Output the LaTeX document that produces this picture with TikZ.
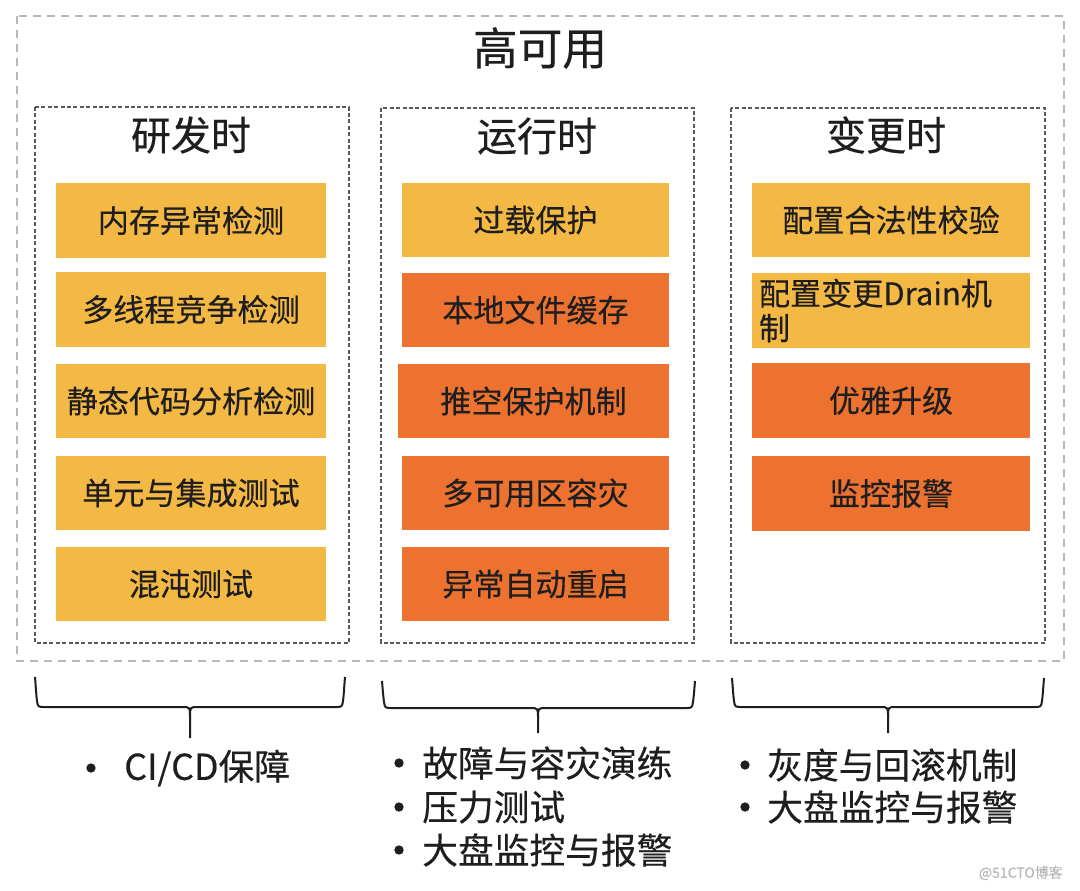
\documentclass[tikz,border=0pt]{standalone}
\usepackage{fontspec}
\setmainfont{Noto Sans CJK SC}[FakeBold=0.35]
\definecolor{cYel}{HTML}{F4B844}
\definecolor{cOrg}{HTML}{ED7230}
\definecolor{cTxt}{HTML}{1E1E1E}
\begin{document}
\begin{tikzpicture}[x=0.75pt,y=-0.75pt,
  outerbox/.style={draw=black!28, line width=1.1pt, dash pattern=on 6pt off 4.5pt},
  phase/.style={draw=black!65, line width=1.1pt, dash pattern=on 3pt off 1.8pt},
  item/.style={minimum height=56pt, inner sep=0pt, font=\fontsize{23.3}{26}\selectfont, text=cTxt},
  yel/.style={item, fill=cYel},
  org/.style={item, fill=cOrg},
  head/.style={font=\fontsize{30}{35}\selectfont, text=cTxt, inner sep=0pt},
  brace/.style={line width=1.5pt, draw=cTxt},
  bul/.style={circle, fill=cTxt, minimum size=7pt, inner sep=0pt},
  btxt/.style={anchor=west, font=\fontsize{26.8}{30}\selectfont, text=cTxt, inner sep=0pt}]
\useasboundingbox (0,0) rectangle (1080,890);
\fill[white] (0,0) rectangle (1080,890);
% outer frame
\draw[outerbox] (17,16) rectangle (1064,661);
\node[font=\fontsize{33.5}{40}\selectfont, text=cTxt, inner sep=0pt] (title) at (540,48) {高可用};
% phase frames
\draw[phase] (35,107) rectangle (349,643);
\draw[phase] (381,108) rectangle (694,643);
\draw[phase] (731,108) rectangle (1045,643);
\node[head] (h1) at (191,135) {研发时};
\node[head] (h2) at (537,136) {运行时};
\node[head] (h3) at (886,135) {变更时};
% column 1
\node[yel, minimum width=202.5pt] (a1) at (191,220.5) {内存异常检测};
\node[yel, minimum width=202.5pt] (a2) at (191,309.5) {多线程竞争检测};
\node[yel, minimum width=202.5pt] (a3) at (191,401) {静态代码分析检测};
\node[yel, minimum width=202.5pt] (a4) at (191,493) {单元与集成测试};
\node[yel, minimum width=202.5pt] (a5) at (191,584) {混沌测试};
% column 2
\node[yel, minimum width=200.25pt] (b1) at (535.5,220) {过载保护};
\node[org, minimum width=200.25pt] (b2) at (535.5,310) {本地文件缓存};
\node[org, minimum width=203.25pt] (b3) at (533.5,401) {推空保护机制};
\node[org, minimum width=200.25pt] (b4) at (535.5,493) {多可用区容灾};
\node[org, minimum width=200.25pt] (b5) at (535.5,584) {异常自动重启};
% column 3
\node[yel, minimum width=208.5pt] (c1) at (891,220) {配置合法性校验};
\node[yel, minimum width=208.5pt, text width=198pt, inner xsep=5.25pt, align=left] (c2) at (891,310.5) {配置变更Drain机\\制};
\node[org, minimum width=208.5pt] (c3) at (891,400.5) {优雅升级};
\node[org, minimum width=208.5pt] (c4) at (891,493.5) {监控报警};
% braces
\newcommand\hbrace[6]{%
  \draw[brace] (#1,#4) .. controls ({#1+1},{#4+12}) and ({#1+1},{#5-14}) .. ({#1+2},{#5-6}) .. controls ({#1+3},#5) .. ({#1+10},#5) -- ({#3-8},#5) .. controls (#3,#5) .. (#3,{#5+10}) -- (#3,#6);
  \draw[brace] (#2,#4) .. controls ({#2-1},{#4+12}) and ({#2-1},{#5-14}) .. ({#2-2},{#5-6}) .. controls ({#2-3},#5) .. ({#2-10},#5) -- ({#3+8},#5) .. controls (#3,#5) .. (#3,{#5+10});}
\hbrace{35}{345}{190}{677}{707}{738}
\hbrace{382}{695}{538}{681}{708}{733}
\hbrace{732}{1044}{888}{678}{707}{733}
% bullet lists
\node[bul] (p1) at (91,768) {};
\node[btxt] (t1) at (124,768) {CI/CD保障};
\node[bul] (q1) at (399,763) {};
\node[btxt] (u1) at (422,763) {故障与容灾演练};
\node[bul] (q2) at (399,807) {};
\node[btxt] (u2) at (422,807) {压力测试};
\node[bul] (q3) at (399,850) {};
\node[btxt] (u3) at (422,850) {大盘监控与报警};
\node[bul] (r1) at (745,765) {};
\node[btxt] (v1) at (767,765) {灰度与回滚机制};
\node[bul] (r2) at (745,807) {};
\node[btxt] (v2) at (767,807) {大盘监控与报警};
% watermark
\node[anchor=east, font=\fontsize{10.5}{12}\selectfont, text=black!28, inner sep=0pt] (wm) at (1063,873) {@51CTO博客};
\end{tikzpicture}
\end{document}
